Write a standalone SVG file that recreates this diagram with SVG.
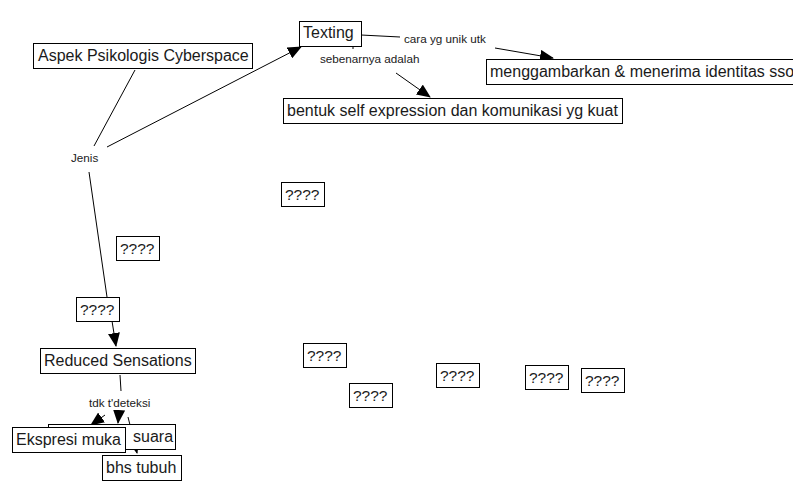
<svg xmlns="http://www.w3.org/2000/svg" width="793" height="500" viewBox="0 0 793 500">
<defs>
<marker id="ah" markerWidth="14" markerHeight="12" refX="13" refY="6" orient="auto" markerUnits="userSpaceOnUse"><path d="M0,0 L14,6 L0,12 z" fill="#000"/></marker>
<style>
.box{fill:#fff;stroke:#000;stroke-width:1}
.t{font-family:"Liberation Sans",Arial,sans-serif;font-size:16px;fill:#1a1a1a}
.q{font-family:"Liberation Sans",Arial,sans-serif;font-size:15.5px;fill:#1a1a1a}
.l{font-family:"Liberation Sans",Arial,sans-serif;font-size:11.7px;fill:#1a1a1a}
.c{fill:none;stroke:#000;stroke-width:1}
</style>
</defs>
<rect width="793" height="500" fill="#fff"/>
<g id="connectors">
<line class="c" x1="135" y1="70" x2="94" y2="146"/>
<line class="c" x1="107" y1="147" x2="301" y2="47" marker-end="url(#ah)"/>
<line class="c" x1="89" y1="172" x2="107" y2="297"/>
<line class="c" x1="112" y1="321" x2="116" y2="346" marker-end="url(#ah)"/>
<line class="c" x1="361" y1="35" x2="400" y2="37"/>
<line class="c" x1="495" y1="48" x2="553" y2="58" marker-end="url(#ah)"/>
<line class="c" x1="353" y1="46" x2="353" y2="49"/>
<line class="c" x1="396" y1="73" x2="430" y2="97" marker-end="url(#ah)"/>
<line class="c" x1="120" y1="375" x2="121" y2="391"/>
<line class="c" x1="105" y1="415" x2="91" y2="425" marker-end="url(#ah)"/>
<line class="c" x1="119" y1="411" x2="118" y2="423" marker-end="url(#ah)"/>
<line class="c" x1="128" y1="417" x2="137" y2="453" marker-end="url(#ah)"/>
<text class="l" x="71" y="162">Jenis</text>
<text class="l" x="404" y="43">cara yg unik utk</text>
<text class="l" x="320" y="63">sebenarnya adalah</text>
<text class="l" x="89" y="407">tdk t'deteksi</text>
</g>
<g id="aspek"><rect class="box" x="33.5" y="43.5" width="219" height="25"/><text class="t" x="38" y="61">Aspek Psikologis Cyberspace</text></g>
<g id="texting"><rect class="box" x="299.5" y="21.5" width="62" height="25"/><text class="t" x="303" y="38">Texting</text></g>
<g id="menggambarkan"><rect class="box" x="486.5" y="59.5" width="320" height="25"/><text class="t" x="490" y="77">menggambarkan &amp; menerima identitas sso</text></g>
<g id="bentuk"><rect class="box" x="283.5" y="98.5" width="339" height="25"/><text class="t" x="287" y="116">bentuk self expression dan komunikasi yg kuat</text></g>
<g id="q1"><rect class="box" x="281.5" y="182.5" width="43" height="24"/><text class="q" x="285" y="200">????</text></g>
<g id="q2"><rect class="box" x="116.5" y="236.5" width="43" height="24"/><text class="q" x="120" y="254">????</text></g>
<g id="q3"><rect class="box" x="76.5" y="297.5" width="43" height="24"/><text class="q" x="80" y="315">????</text></g>
<g id="reduced"><rect class="box" x="40.5" y="348.5" width="155" height="25"/><text class="t" x="44" y="366">Reduced Sensations</text></g>
<g id="q4"><rect class="box" x="303.5" y="343.5" width="43" height="24"/><text class="q" x="307" y="361">????</text></g>
<g id="q5"><rect class="box" x="349.5" y="383.5" width="43" height="24"/><text class="q" x="353" y="401">????</text></g>
<g id="q6"><rect class="box" x="436.5" y="363.5" width="43" height="24"/><text class="q" x="440" y="381">????</text></g>
<g id="q7"><rect class="box" x="525.5" y="365.5" width="43" height="24"/><text class="q" x="529" y="383">????</text></g>
<g id="q8"><rect class="box" x="581.5" y="368.5" width="43" height="24"/><text class="q" x="585" y="386">????</text></g>
<g id="bhs"><rect class="box" x="102.5" y="455.5" width="79" height="25"/><text class="t" x="106" y="473">bhs tubuh</text></g>
<g id="suara"><rect class="box" x="48.5" y="424.5" width="127" height="25"/><text class="t" x="133" y="442">suara</text></g>
<g id="ekspresi"><rect class="box" x="12.5" y="427.5" width="113" height="25"/><text class="t" x="16" y="445">Ekspresi muka</text></g>
</svg>
